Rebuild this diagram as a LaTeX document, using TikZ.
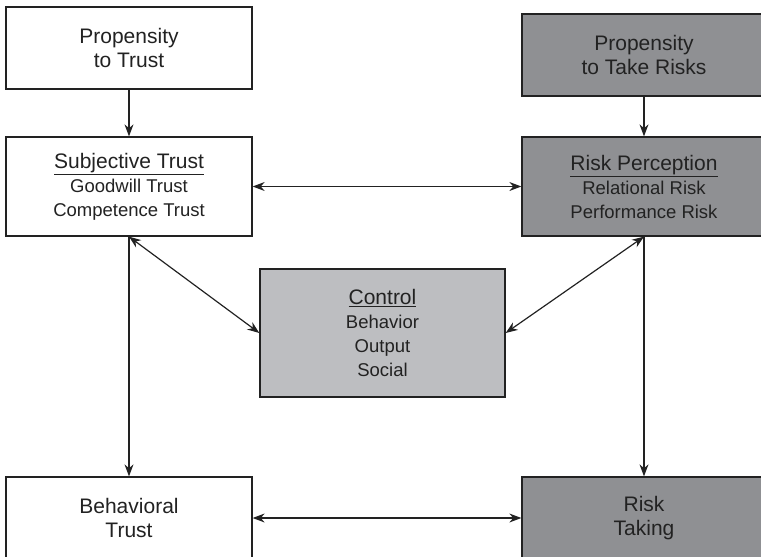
\documentclass[tikz,border=0pt]{standalone}
\usepackage{fontspec}
\setmainfont{Liberation Sans}
\usetikzlibrary{arrows.meta,positioning,calc}
\definecolor{riskgray}{HTML}{8F9093}
\definecolor{ctrlgray}{HTML}{BDBEC1}
\definecolor{inkgray}{HTML}{222222}
\tikzset{
    every node/.style={font=\fontsize{18.5}{24}\selectfont, text=inkgray}
}
\newcommand{\boxtitle}[1]{{\fontsize{21}{24}\selectfont\underline{#1}}}

\begin{document}
\begin{tikzpicture}[x=1pt, y=-1pt,
    % Boxes
    whitebox/.style={rectangle, draw=inkgray, line width=1.3pt, fill=white, minimum width=246pt, minimum height=82pt, align=center, inner sep=0pt},
    greybox/.style={whitebox, fill=riskgray, minimum width=244pt},
    ctrlbox/.style={whitebox, fill=ctrlgray},
    bigtext/.style={font=\fontsize{21}{24}\selectfont},
    % Arrows
    link/.style={-{Stealth[length=12pt,width=9pt]}, line width=1.2pt, draw=inkgray},
    twoway/.style={{Stealth[length=12pt,width=9pt]}-{Stealth[length=12pt,width=9pt]}, line width=1.2pt, draw=inkgray}
]
\useasboundingbox (0,0) rectangle (761,557);
\clip (0,0) rectangle (761,557);

% === PROPENSITIES ===
\node[whitebox, bigtext] (ptrust) at (129,48) {Propensity\\to Trust};
\node[greybox, bigtext] (prisk) at (644,55) {Propensity\\to Take Risks};

% === TRUST AND RISK PERCEPTION ===
\node[whitebox, minimum height=99pt] (strust) at (129,186.5) {\boxtitle{Subjective Trust}\\Goodwill Trust\\Competence Trust};
\node[greybox, minimum height=99pt] (rperc) at (644,186.5) {\boxtitle{Risk Perception}\\Relational Risk\\Performance Risk};

% === CONTROL ===
\node[ctrlbox, minimum width=245pt, minimum height=128pt] (control) at (382.5,333) {\boxtitle{Control}\\Behavior\\Output\\Social};

% === BEHAVIOUR ===
\node[whitebox, bigtext] (btrust) at (129,518) {Behavioral\\Trust};
\node[greybox, bigtext] (rtake) at (644,518) {Risk\\Taking};

% Connections
\draw[link] (ptrust) -- (strust);
\draw[link] (prisk) -- (rperc);
\draw[twoway] (strust) -- (rperc);
\draw[twoway] (strust.south) -- (control.west);
\draw[twoway] (rperc.south) -- (control.east);
\draw[link] (strust) -- (btrust);
\draw[link] (rperc) -- (rtake);
\draw[twoway] (btrust) -- (rtake);

\end{tikzpicture}
\end{document}
